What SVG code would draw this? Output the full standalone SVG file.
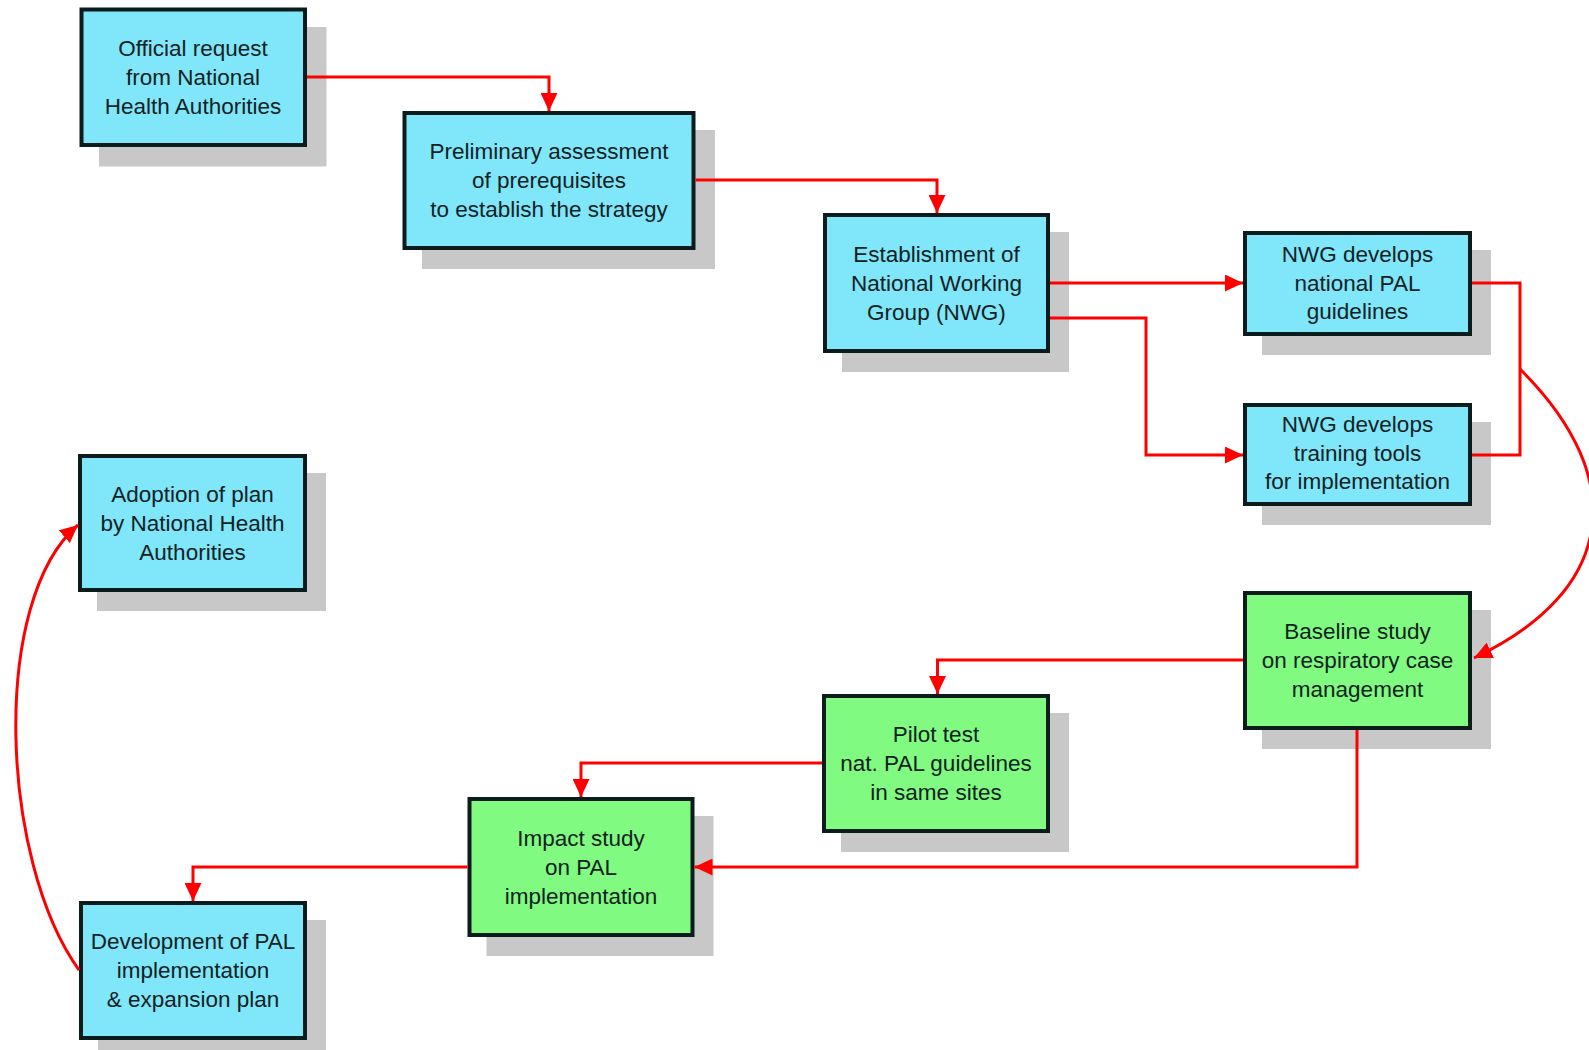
<svg xmlns="http://www.w3.org/2000/svg" width="1589" height="1050" viewBox="0 0 1589 1050">
<style>
.sh{fill:#c8c8c8}
.bx{stroke:#0a1c1c;stroke-width:4}
.blue{fill:#80e6fa}
.green{fill:#80fa80}
.t{font-family:"Liberation Sans",Arial,sans-serif;font-size:22.5px;fill:#102222;text-anchor:middle}
.c{fill:none;stroke:#ff0000;stroke-width:3}
</style>
<defs>
<marker id="ah" markerUnits="userSpaceOnUse" viewBox="0 0 18 17" refX="18" refY="8.5" markerWidth="18" markerHeight="17" orient="auto">
<path d="M0,0 L18,8.5 L0,17 z" fill="#ff0000"/>
</marker>
</defs>
<rect width="1589" height="1050" fill="#ffffff"/>
<g id="shadows">
<rect class="sh" x="99" y="27" width="227.5" height="139.5"/>
<rect class="sh" x="422" y="130" width="293" height="139"/>
<rect class="sh" x="842" y="232" width="227" height="140"/>
<rect class="sh" x="1262" y="250" width="229" height="105"/>
<rect class="sh" x="1262" y="422" width="229" height="103"/>
<rect class="sh" x="97" y="473" width="229" height="138"/>
<rect class="sh" x="1262" y="610" width="229" height="139"/>
<rect class="sh" x="841" y="713" width="228" height="139"/>
<rect class="sh" x="486.5" y="816" width="227" height="140"/>
<rect class="sh" x="98" y="920" width="228" height="139"/>
</g>
<g id="n1">
<rect class="bx blue" x="81.5" y="9.5" width="223.5" height="135.5"/>
<text class="t" x="193" y="55.5">Official request</text>
<text class="t" x="193" y="84.5">from National</text>
<text class="t" x="193" y="113.5">Health Authorities</text>
</g>
<g id="n2">
<rect class="bx blue" x="404.5" y="113" width="289" height="135"/>
<text class="t" x="549" y="159">Preliminary assessment</text>
<text class="t" x="549" y="188">of prerequisites</text>
<text class="t" x="549" y="217">to establish the strategy</text>
</g>
<g id="n3">
<rect class="bx blue" x="825" y="215" width="223" height="136"/>
<text class="t" x="936.5" y="261.5">Establishment of</text>
<text class="t" x="936.5" y="290.5">National Working</text>
<text class="t" x="936.5" y="319.5">Group (NWG)</text>
</g>
<g id="n4">
<rect class="bx blue" x="1245" y="233" width="225" height="101"/>
<text class="t" x="1357.5" y="262">NWG develops</text>
<text class="t" x="1357.5" y="290.5">national PAL</text>
<text class="t" x="1357.5" y="319">guidelines</text>
</g>
<g id="n5">
<rect class="bx blue" x="1245" y="405" width="225" height="99"/>
<text class="t" x="1357.5" y="432">NWG develops</text>
<text class="t" x="1357.5" y="460.5">training tools</text>
<text class="t" x="1357.5" y="489">for implementation</text>
</g>
<g id="n6">
<rect class="bx blue" x="80" y="456" width="225" height="134"/>
<text class="t" x="192.5" y="501.5">Adoption of plan</text>
<text class="t" x="192.5" y="530.5">by National Health</text>
<text class="t" x="192.5" y="559.5">Authorities</text>
</g>
<g id="n7">
<rect class="bx green" x="1245" y="593" width="225" height="135"/>
<text class="t" x="1357.5" y="639">Baseline study</text>
<text class="t" x="1357.5" y="668">on respiratory case</text>
<text class="t" x="1357.5" y="697">management</text>
</g>
<g id="n8">
<rect class="bx green" x="824" y="696" width="224" height="135"/>
<text class="t" x="936" y="742">Pilot test</text>
<text class="t" x="936" y="771">nat. PAL guidelines</text>
<text class="t" x="936" y="800">in same sites</text>
</g>
<g id="n9">
<rect class="bx green" x="469.5" y="799" width="223" height="136"/>
<text class="t" x="581" y="845.5">Impact study</text>
<text class="t" x="581" y="874.5">on PAL</text>
<text class="t" x="581" y="903.5">implementation</text>
</g>
<g id="n10">
<rect class="bx blue" x="81" y="903" width="224" height="135"/>
<text class="t" x="193" y="949">Development of PAL</text>
<text class="t" x="193" y="978">implementation</text>
<text class="t" x="193" y="1007">&amp; expansion plan</text>
</g>
<g id="connectors">
<path class="c" d="M307,77 H549 V111" marker-end="url(#ah)"/>
<path class="c" d="M695.5,180 H937 V213" marker-end="url(#ah)"/>
<path class="c" d="M1050,283 H1243" marker-end="url(#ah)"/>
<path class="c" d="M1050,318 H1146 V455 H1243" marker-end="url(#ah)"/>
<path class="c" d="M1472,283 H1520 V455 H1472"/>
<path class="c" d="M1520,369 C1632,480 1614,592 1474,658" marker-end="url(#ah)"/>
<path class="c" d="M1243,660 H937.5 V694" marker-end="url(#ah)"/>
<path class="c" d="M822,763 H581 V797" marker-end="url(#ah)"/>
<path class="c" d="M1357,730 V867 H694.5" marker-end="url(#ah)"/>
<path class="c" d="M467.5,867 H193 V901" marker-end="url(#ah)"/>
<path class="c" d="M79,970 C0,860 -10,600 78,525" marker-end="url(#ah)"/>
</g>
</svg>
